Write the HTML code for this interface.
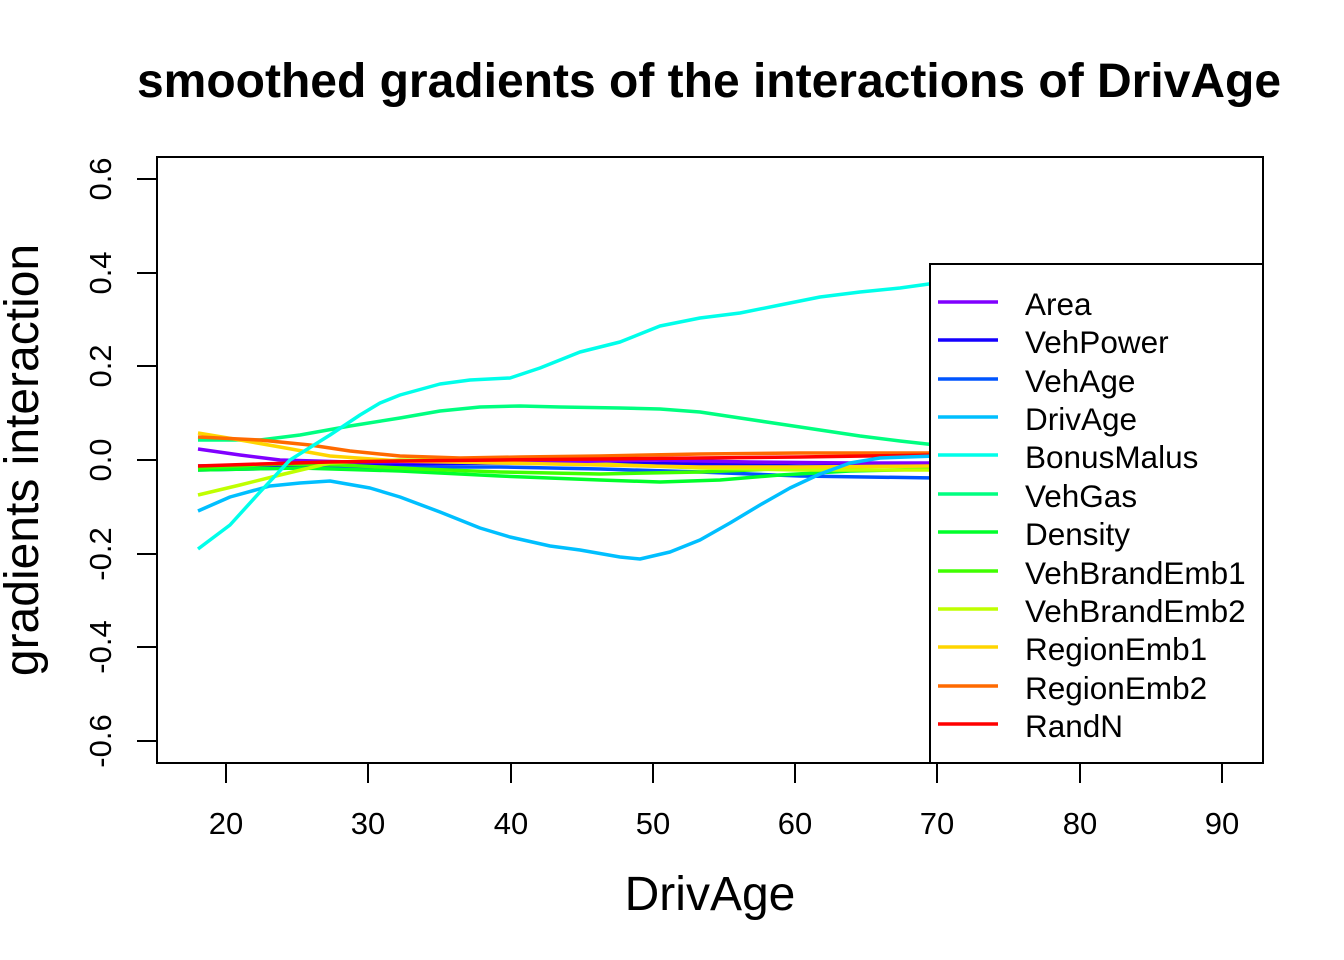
<!DOCTYPE html>
<html><head><meta charset="utf-8"><style>
html,body{margin:0;padding:0;background:#fff}
svg{display:block}
text{font-family:"Liberation Sans",Arial,sans-serif}
</style></head><body>
<svg width="1344" height="960" viewBox="0 0 1344 960" xmlns="http://www.w3.org/2000/svg">
<rect width="1344" height="960" fill="#fff"/>
<text x="709" y="97" text-anchor="middle" font-size="48" font-weight="bold">smoothed gradients of the interactions of DrivAge</text>
<text x="710" y="910" text-anchor="middle" font-size="48">DrivAge</text>
<text transform="translate(38,460) rotate(-90)" text-anchor="middle" font-size="48">gradients interaction</text>
<g stroke="#000" stroke-width="2" fill="none">
<line x1="226" y1="763" x2="1222" y2="763"/>
<line x1="226" y1="763" x2="226" y2="783"/><line x1="368" y1="763" x2="368" y2="783"/>
<line x1="511" y1="763" x2="511" y2="783"/><line x1="653" y1="763" x2="653" y2="783"/>
<line x1="795" y1="763" x2="795" y2="783"/><line x1="937" y1="763" x2="937" y2="783"/>
<line x1="1080" y1="763" x2="1080" y2="783"/><line x1="1222" y1="763" x2="1222" y2="783"/>
<line x1="157" y1="179" x2="157" y2="741"/>
<line x1="137" y1="179" x2="157" y2="179"/><line x1="137" y1="273" x2="157" y2="273"/>
<line x1="137" y1="366" x2="157" y2="366"/><line x1="137" y1="460" x2="157" y2="460"/>
<line x1="137" y1="554" x2="157" y2="554"/><line x1="137" y1="647" x2="157" y2="647"/>
<line x1="137" y1="741" x2="157" y2="741"/>
</g>
<g font-size="31" text-anchor="middle">
<text x="226" y="834">20</text><text x="368" y="834">30</text><text x="511" y="834">40</text>
<text x="653" y="834">50</text><text x="795" y="834">60</text><text x="937" y="834">70</text>
<text x="1080" y="834">80</text><text x="1222" y="834">90</text>
</g>
<g font-size="31" text-anchor="middle">
<text transform="translate(111,179) rotate(-90)">0.6</text>
<text transform="translate(111,273) rotate(-90)">0.4</text>
<text transform="translate(111,366) rotate(-90)">0.2</text>
<text transform="translate(111,460) rotate(-90)">0.0</text>
<text transform="translate(111,554) rotate(-90)">-0.2</text>
<text transform="translate(111,647) rotate(-90)">-0.4</text>
<text transform="translate(111,741) rotate(-90)">-0.6</text>
</g>
<g fill="none" stroke-width="3.5" stroke-linejoin="round">
<polyline stroke="#00FF80" points="198,440 260,440 300,435 350,426 400,418 440,411 480,407 520,406 560,407 620,408 660,409 700,412 740,418 780,424 820,430 860,436 900,441 936,445"/>
<polyline stroke="#0055FF" points="198,470 300,468 400,467 500,467 600,469 700,472 800,476 936,478"/>
<polyline stroke="#1500FF" points="198,466 300,465 400,464 500,463 600,463 700,464 800,466 936,466"/>
<polyline stroke="#00FF2B" points="198,470 300,468 400,471 500,476 600,480 660,482 720,480 780,475 850,471 936,469"/>
<polyline stroke="#40FF00" points="198,468 280,464 340,465 420,469 500,472 600,474 700,472 800,468 936,465"/>
<polyline stroke="#BFFF00" points="198,495 240,485 280,475 330,463 400,460 500,461 600,464 700,468 800,470 936,470"/>
<polyline stroke="#8000FF" points="198,449 240,455 280,460 350,462 450,462 550,462 650,460 750,462 850,463 936,463"/>
<polyline stroke="#FFD500" points="198,433 240,440 280,447 330,456 400,461 500,463 600,465 700,467 800,467 936,466"/>
<polyline stroke="#FF6A00" points="198,437 260,440 310,445 350,451 400,456 460,458 520,457 600,456 700,454 800,453 936,453"/>
<polyline stroke="#FF0000" points="198,466 260,464 330,462 400,461 500,460 600,459 700,458 800,457 936,455"/>
<polyline stroke="#00BFFF" points="198,511 230,497 270,486 300,483 330,481 370,488 400,497 440,512 480,528 510,537 550,546 580,550 620,557 640,559 670,552 700,540 730,523 760,505 790,488 820,474 850,463 880,458 936,456"/>
<polyline stroke="#00FFEA" points="198,549 230,525 260,492 290,460 330,435 360,415 380,403 400,395 440,384 470,380 510,378 540,368 580,352 620,342 660,326 700,318 740,313 780,305 820,297 860,292 900,288 936,283"/>
</g>
<rect x="930" y="264" width="333" height="499" fill="#fff" stroke="#000" stroke-width="2"/>
<rect x="157" y="157" width="1106" height="606" fill="none" stroke="#000" stroke-width="2"/>
<g stroke-width="3.5">
<line x1="938" y1="302" x2="998" y2="302" stroke="#8000FF"/>
<line x1="938" y1="340" x2="998" y2="340" stroke="#1500FF"/>
<line x1="938" y1="379" x2="998" y2="379" stroke="#0055FF"/>
<line x1="938" y1="417" x2="998" y2="417" stroke="#00BFFF"/>
<line x1="938" y1="455" x2="998" y2="455" stroke="#00FFEA"/>
<line x1="938" y1="494" x2="998" y2="494" stroke="#00FF80"/>
<line x1="938" y1="532" x2="998" y2="532" stroke="#00FF2B"/>
<line x1="938" y1="571" x2="998" y2="571" stroke="#40FF00"/>
<line x1="938" y1="609" x2="998" y2="609" stroke="#BFFF00"/>
<line x1="938" y1="647" x2="998" y2="647" stroke="#FFD500"/>
<line x1="938" y1="686" x2="998" y2="686" stroke="#FF6A00"/>
<line x1="938" y1="724" x2="998" y2="724" stroke="#FF0000"/>
</g>
<g font-size="31.5">
<text x="1025" y="315">Area</text>
<text x="1025" y="353">VehPower</text>
<text x="1025" y="392">VehAge</text>
<text x="1025" y="430">DrivAge</text>
<text x="1025" y="468">BonusMalus</text>
<text x="1025" y="507">VehGas</text>
<text x="1025" y="545">Density</text>
<text x="1025" y="584">VehBrandEmb1</text>
<text x="1025" y="622">VehBrandEmb2</text>
<text x="1025" y="660">RegionEmb1</text>
<text x="1025" y="699">RegionEmb2</text>
<text x="1025" y="737">RandN</text>
</g>
</svg>
</body></html>
